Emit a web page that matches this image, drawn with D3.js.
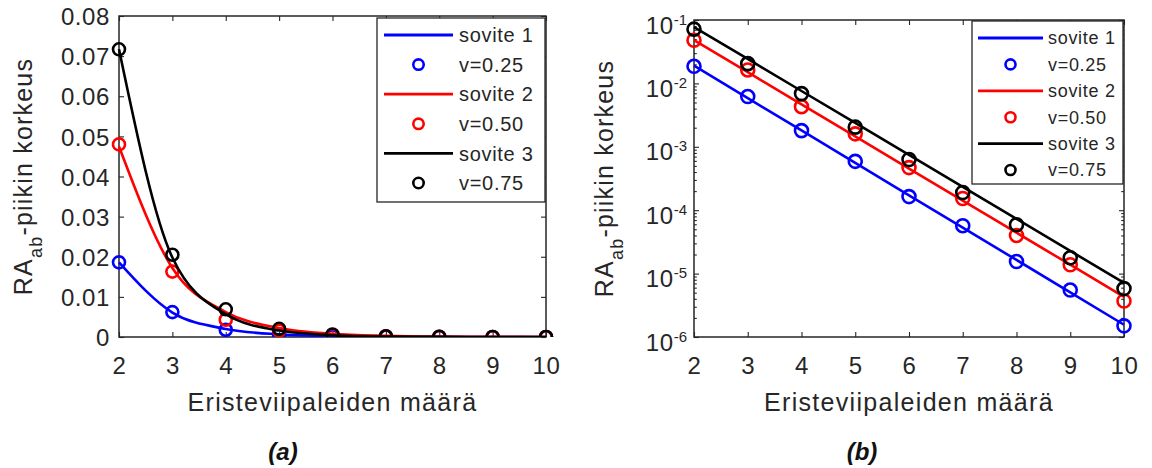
<!DOCTYPE html>
<html><head><meta charset="utf-8">
<script src="https://cdn.jsdelivr.net/npm/d3@7"></script>
<style>
body{margin:0;background:#fff;}
svg{display:block;font-family:"Liberation Sans",Arial,Helvetica,sans-serif;}
</style></head><body>
<svg id="c" width="1152" height="468"></svg>
<script>
// ---------------- data ----------------
const counts = [2, 3, 4, 5, 6, 7, 8, 9, 10];
// measured peak heights (circles)
const meas025 = [0.0186, 0.0062, 0.0018, 5.9e-4, 1.64e-4, 5.7e-5, 1.55e-5, 5.5e-6, 1.5e-6];
const meas050 = [0.0480, 0.0163, 0.0043, 1.6e-3, 4.7e-4, 1.53e-4, 4.0e-5, 1.38e-5, 3.7e-6];
const meas075 = [0.0717, 0.0205, 0.0069, 2.04e-3, 6.3e-4, 1.9e-4, 5.9e-5, 1.78e-5, 5.8e-6];
// fitted curves, panel (a) (linear axis)
const fitLin1 = [0.0186, 0.0061, 0.0020, 6.6e-4, 2.2e-4, 7e-5, 2e-5, 1e-5, 2e-6];
const fitLin2 = [0.0475, 0.0172, 0.0062, 2.25e-3, 8e-4, 3e-4, 1e-4, 4e-5, 1e-5];
const fitLin3 = [0.0717, 0.0198, 0.0057, 1.6e-3, 4.5e-4, 1.3e-4, 4e-5, 1e-5, 3e-6];
// fitted lines, panel (b) (log axis)
const fitLog1 = [1.90e-2, 5.86e-3, 1.81e-3, 5.58e-4, 1.72e-4, 5.31e-5, 1.64e-5, 5.06e-6, 1.56e-6];
const fitLog2 = [4.80e-2, 1.50e-2, 4.67e-3, 1.46e-3, 4.54e-4, 1.42e-4, 4.42e-5, 1.38e-5, 4.30e-6];
const fitLog3 = [7.74e-2, 2.43e-2, 7.59e-3, 2.38e-3, 7.45e-4, 2.33e-4, 7.30e-5, 2.28e-5, 7.14e-6];
// ticks
const linTicks = [0, 0.01, 0.02, 0.03, 0.04, 0.05, 0.06, 0.07, 0.08];
const linTickLabels = ["0", "0.01", "0.02", "0.03", "0.04", "0.05", "0.06", "0.07", "0.08"];
const logTicks = [1e-6, 1e-5, 1e-4, 1e-3, 1e-2, 1e-1];
const logTickExps = ["-6", "-5", "-4", "-3", "-2", "-1"];
const logMinorMult = [2, 3, 4, 5, 6, 7, 8, 9];
// text
const fitNames = ["sovite 1", "sovite 2", "sovite 3"];
const pointNames = ["v=0.25", "v=0.50", "v=0.75"];
const xLabel = "Eristeviipaleiden määrä";
const yLabelMain = "RA", yLabelSub = "ab", yLabelRest = "-piikin korkeus";
const panelNames = ["(a)", "(b)"];
const seriesColors = ["#0000ff", "#ff0000", "#000000"];

// ---------------- drawing ----------------
const svg = d3.select("#c");
const AX = "#262626";
const measAll = [meas025, meas050, meas075];

function styleAxis(g) {
  g.select(".domain").remove();
  g.selectAll(".tick line").attr("stroke", AX).attr("stroke-width", 1.1);
  g.selectAll(".tick text").attr("fill", AX);
}

function panel(cfg) {
  const { x, y, fits, curve, r, legend, tickFont, isLog } = cfg;
  const [x0, x1] = x.range();
  const [y0, y1] = y.range(); // y0 bottom, y1 top
  const g = svg.append("g");
  const TL = 5;

  // x axis bottom
  const xb = g.append("g").attr("transform", `translate(0,${y0})`)
    .call(d3.axisBottom(x).tickValues(counts).tickFormat(d3.format("d")).tickSizeInner(-TL).tickSizeOuter(0));
  styleAxis(xb);
  xb.selectAll(".tick text").attr("y", 28).attr("dy", "0.36em")
    .attr("font-size", tickFont).attr("letter-spacing", 0.6).attr("font-family", null);
  // x axis top (mirror)
  const xt = g.append("g").attr("transform", `translate(0,${y1})`)
    .call(d3.axisTop(x).tickValues(counts).tickFormat("").tickSizeInner(-TL).tickSizeOuter(0));
  styleAxis(xt);

  if (!isLog) {
    const yl = g.append("g").attr("transform", `translate(${x0},0)`)
      .call(d3.axisLeft(y).tickValues(linTicks).tickFormat((d, i) => linTickLabels[i]).tickSizeInner(-TL).tickSizeOuter(0));
    styleAxis(yl);
    yl.selectAll(".tick text").attr("x", -9).attr("dy", "0.36em")
      .attr("font-size", tickFont).attr("letter-spacing", 0.6).attr("font-family", null);
    const yr = g.append("g").attr("transform", `translate(${x1},0)`)
      .call(d3.axisRight(y).tickValues(linTicks).tickFormat("").tickSizeInner(-TL).tickSizeOuter(0));
    styleAxis(yr);
  } else {
    const minor = [];
    logTicks.slice(0, -1).forEach(d => logMinorMult.forEach(m => minor.push(d * m)));
    const yl = g.append("g").attr("transform", `translate(${x0},0)`)
      .call(d3.axisLeft(y).tickValues(logTicks).tickFormat("").tickSizeInner(-TL).tickSizeOuter(0));
    styleAxis(yl);
    yl.selectAll(".tick text").remove();
    yl.selectAll(".tick").append("text")
      .attr("fill", AX).attr("text-anchor", "end").attr("x", -7).attr("y", 13)
      .attr("font-size", tickFont).attr("letter-spacing", 0.6)
      .each(function (d, i) {
        const t = d3.select(this);
        t.append("tspan").text("10");
        t.append("tspan").attr("dy", -9).attr("font-size", 15).attr("letter-spacing", 0).text(logTickExps[i]);
      });
    const ylm = g.append("g").attr("transform", `translate(${x0},0)`)
      .call(d3.axisLeft(y).tickValues(minor).tickFormat("").tickSizeInner(-2.8).tickSizeOuter(0));
    styleAxis(ylm);
    const yr = g.append("g").attr("transform", `translate(${x1},0)`)
      .call(d3.axisRight(y).tickValues(logTicks).tickFormat("").tickSizeInner(-TL).tickSizeOuter(0));
    styleAxis(yr);
    const yrm = g.append("g").attr("transform", `translate(${x1},0)`)
      .call(d3.axisRight(y).tickValues(minor).tickFormat("").tickSizeInner(-2.8).tickSizeOuter(0));
    styleAxis(yrm);
  }

  // box
  g.append("rect").attr("x", x0).attr("y", y1).attr("width", x1 - x0).attr("height", y0 - y1)
    .attr("fill", "none").attr("stroke", AX).attr("stroke-width", 1.5);

  // series
  const line = d3.line().x((d, i) => x(counts[i])).y(d => y(d)).curve(curve);
  const clipId = "clip" + x0;
  g.append("clipPath").attr("id", clipId).append("rect")
    .attr("x", x0 - 10).attr("y", y1 - 10).attr("width", x1 - x0 + 20).attr("height", y0 - y1 + 10);
  const sg = g.append("g").attr("clip-path", `url(#${clipId})`);
  fits.forEach((f, k) => {
    sg.append("path").attr("d", line(f)).attr("fill", "none")
      .attr("stroke", seriesColors[k]).attr("stroke-width", 2.6);
    sg.selectAll(null).data(measAll[k]).join("circle")
      .attr("cx", (d, i) => x(counts[i])).attr("cy", d => y(d)).attr("r", r)
      .attr("fill", "none").attr("stroke", seriesColors[k]).attr("stroke-width", 2.6);
  });

  // legend
  const L = legend;
  const lg = g.append("g");
  lg.append("rect").attr("x", L.x).attr("y", L.y).attr("width", L.w).attr("height", L.h)
    .attr("fill", "#fff").attr("stroke", AX).attr("stroke-width", 1.3);
  for (let k = 0; k < 3; k++) {
    const ya = L.row0 + (2 * k) * L.dy, yb = L.row0 + (2 * k + 1) * L.dy;
    lg.append("line").attr("x1", L.lx0).attr("x2", L.lx1).attr("y1", ya).attr("y2", ya)
      .attr("stroke", seriesColors[k]).attr("stroke-width", 2.8);
    lg.append("circle").attr("cx", (L.lx0 + L.lx1) / 2).attr("cy", yb).attr("r", L.mr)
      .attr("fill", "none").attr("stroke", seriesColors[k]).attr("stroke-width", 2.6);
    lg.append("text").attr("x", L.tx).attr("y", ya).attr("dy", "0.36em")
      .attr("font-size", L.fs).attr("letter-spacing", 0.7).attr("fill", AX).text(fitNames[k]);
    lg.append("text").attr("x", L.tx).attr("y", yb).attr("dy", "0.36em")
      .attr("font-size", L.fs).attr("letter-spacing", 0.7).attr("fill", AX).text(pointNames[k]);
  }

  // x label
  g.append("text").attr("x", (x0 + x1) / 2).attr("y", 402).attr("dy", "0.36em")
    .attr("text-anchor", "middle").attr("font-size", 25).attr("letter-spacing", 1.3)
    .attr("fill", AX).text(xLabel);
  // y label
  const yt = g.append("text").attr("transform", `translate(${cfg.ylx},${(y0 + y1) / 2}) rotate(-90)`)
    .attr("text-anchor", "middle").attr("dy", "0.36em").attr("font-size", 25)
    .attr("letter-spacing", 1.2).attr("fill", AX);
  yt.append("tspan").text(yLabelMain);
  yt.append("tspan").attr("dy", 10).attr("font-size", 18).text(yLabelSub);
  yt.append("tspan").attr("dy", -10).text(yLabelRest);

  // panel label
  svg.append("text").attr("x", cfg.px).attr("y", 451).attr("dy", "0.36em")
    .attr("text-anchor", "middle").attr("font-size", 24).attr("font-weight", "bold")
    .attr("font-style", "italic").attr("fill", "#111").text(cfg.pname);
}

panel({
  x: d3.scaleLinear().domain([2, 10]).range([119, 546]),
  y: d3.scaleLinear().domain([0, 0.08]).range([337, 16]),
  fits: [fitLin1, fitLin2, fitLin3], curve: d3.curveMonotoneX, r: 6, tickFont: 24, isLog: false,
  legend: { x: 377, y: 18, w: 168, h: 184, row0: 35, dy: 29.6, lx0: 384, lx1: 453, tx: 459, fs: 20, mr: 5.2 },
  ylx: 23, px: 283, pname: panelNames[0]
});
panel({
  x: d3.scaleLinear().domain([2, 10]).range([694, 1124]),
  y: d3.scaleLog().domain([1e-6, 1e-1]).range([337, 20]),
  fits: [fitLog1, fitLog2, fitLog3], curve: d3.curveLinear, r: 6.5, tickFont: 24, isLog: true,
  legend: { x: 972, y: 21, w: 151, h: 163, row0: 38, dy: 26.4, lx0: 978, lx1: 1043, tx: 1048, fs: 18, mr: 5 },
  ylx: 604, px: 862, pname: panelNames[1]
});
</script>
</body></html>
